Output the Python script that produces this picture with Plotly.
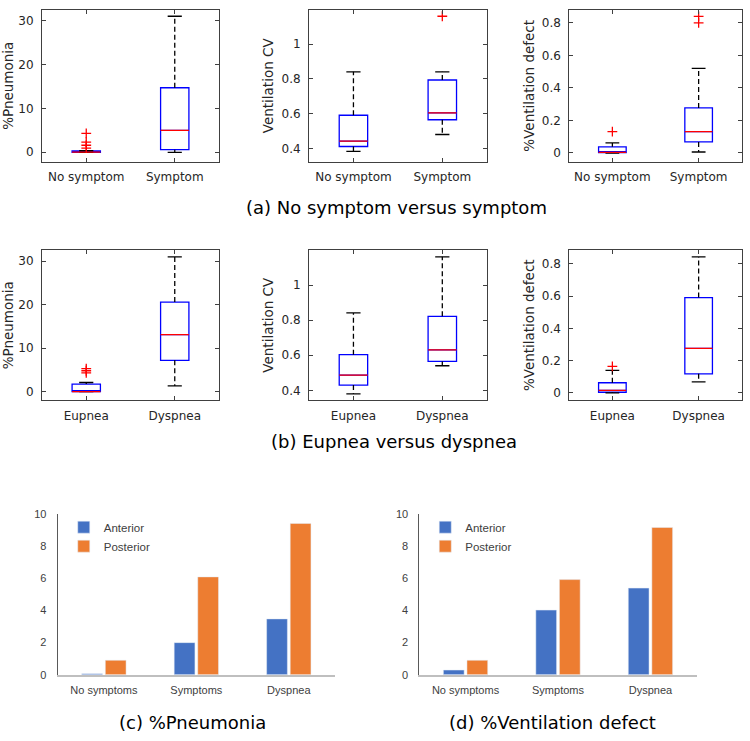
import plotly.graph_objects as go

# ---------------- data ----------------
cats_a = ["No symptom", "Symptom"]
cats_b = ["Eupnea", "Dyspnea"]

# five-number summaries per category: [lower whisker, q1, median, q3, upper whisker]
pneu_a = [[0.0, 0.0, 0.05, 0.3, 0.35], [0.0, 0.6, 5.0, 14.7, 31.0]]
pneu_a_out = [[4.3, 2.3, 1.6, 0.95], []]
cv_a = [[0.383, 0.411, 0.442, 0.591, 0.841], [0.48, 0.565, 0.605, 0.794, 0.841]]
cv_a_out = [[], [1.161]]
vd_a = [[0.0, 0.002, 0.004, 0.038, 0.062], [0.006, 0.068, 0.131, 0.277, 0.52]]
vd_a_out = [[0.131], [0.84, 0.80]]

pneu_b = [[0.0, 0.0, 0.0, 1.74, 2.1], [1.3, 7.2, 13.1, 20.6, 31.0]]
pneu_b_out = [[5.3, 4.8, 4.3], []]
cv_b = [[0.38, 0.43, 0.487, 0.603, 0.841], [0.54, 0.565, 0.631, 0.822, 1.161]]
cv_b_out = [[], []]
vd_b = [[0.0, 0.004, 0.016, 0.063, 0.14], [0.069, 0.118, 0.276, 0.591, 0.843]]
vd_b_out = [[0.165], []]

pneu_ticks = [0, 10, 20, 30]
pneu_ticktext = ["0", "10", "20", "30"]
cv_ticks = [0.4, 0.6, 0.8, 1.0]
cv_ticktext = ["0.4", "0.6", "0.8", "1"]
vd_ticks = [0, 0.2, 0.4, 0.6, 0.8]
vd_ticktext = ["0", "0.2", "0.4", "0.6", "0.8"]

groups = ["No symptoms", "Symptoms", "Dyspnea"]
pneu_anterior = [0.06, 2.0, 3.48]
pneu_posterior = [0.9, 6.1, 9.43]
vd_anterior = [0.29, 4.03, 5.4]
vd_posterior = [0.9, 5.93, 9.18]
bar_ticks = [0, 2, 4, 6, 8, 10]

captions = ["(a) No symptom versus symptom", "(b) Eupnea versus dyspnea",
            "(c) %Pneumonia", "(d) %Ventilation defect"]

# ---------------- styling ----------------
BOX_W = 0.32
CAP_W = 0.16
LW = 1.3
FRAME = "#404040"
MFONT = "DejaVu Sans"
XFONT = "Liberation Sans"

panels = [
    (pneu_a, pneu_a_out, cats_a, "%Pneumonia", [-2.2, 32.5], pneu_ticks, pneu_ticktext),
    (cv_a, cv_a_out, cats_a, "Ventilation CV", [0.322, 1.199], cv_ticks, cv_ticktext),
    (vd_a, vd_a_out, cats_a, "%Ventilation defect", [-0.055, 0.881], vd_ticks, vd_ticktext),
    (pneu_b, pneu_b_out, cats_b, "%Pneumonia", [-1.97, 32.5], pneu_ticks, pneu_ticktext),
    (cv_b, cv_b_out, cats_b, "Ventilation CV", [0.344, 1.198], cv_ticks, cv_ticktext),
    (vd_b, vd_b_out, cats_b, "%Ventilation defect", [-0.045, 0.884], vd_ticks, vd_ticktext),
]

col_dom = [(0.056, 0.292), (0.412, 0.649), (0.759, 0.989)]
row_dom = [(0.7861, 0.9950), (0.4593, 0.6649)]

fig = go.Figure()
layout = {}

for i, (stats, outs, cats, ytitle, yr, tv, tt) in enumerate(panels):
    n = i + 1
    xa = "x" if n == 1 else f"x{n}"
    ya = "y" if n == 1 else f"y{n}"
    for j, s in enumerate(stats):
        pos = j + 1
        lo, q1, med, q3, hi = s
        # whiskers (dashed, black)
        fig.add_trace(go.Scatter(
            x=[pos, pos, None, pos, pos], y=[q3, hi, None, q1, lo],
            mode="lines", line=dict(color="black", width=LW, dash="5px,3px"),
            xaxis=xa, yaxis=ya, showlegend=False, hoverinfo="skip"))
        # caps
        fig.add_trace(go.Scatter(
            x=[pos - CAP_W / 2, pos + CAP_W / 2, None, pos - CAP_W / 2, pos + CAP_W / 2],
            y=[hi, hi, None, lo, lo],
            mode="lines", line=dict(color="black", width=LW),
            xaxis=xa, yaxis=ya, showlegend=False, hoverinfo="skip"))
        # box (blue)
        fig.add_trace(go.Box(
            x=[pos], q1=[q1], median=[med], q3=[q3], lowerfence=[q1], upperfence=[q3],
            width=BOX_W, whiskerwidth=0, line=dict(color="#0000ff", width=LW),
            fillcolor="rgba(0,0,0,0)", xaxis=xa, yaxis=ya, showlegend=False,
            name=cats[j], boxpoints=False))
        # median (red)
        fig.add_trace(go.Scatter(
            x=[pos - BOX_W / 2, pos + BOX_W / 2], y=[med, med],
            mode="lines", line=dict(color="#ff0000", width=LW),
            xaxis=xa, yaxis=ya, showlegend=False, hoverinfo="skip"))
        # outliers
        if outs[j]:
            fig.add_trace(go.Scatter(
                x=[pos] * len(outs[j]), y=outs[j], mode="markers",
                marker=dict(symbol="cross-thin", size=7,
                            line=dict(color="#ff0000", width=LW)),
                xaxis=xa, yaxis=ya, showlegend=False))
    r, c = divmod(i, 3)
    axcommon = dict(showline=True, linecolor=FRAME, linewidth=1, mirror="ticks",
                    ticks="inside", ticklen=4, tickcolor=FRAME, showgrid=False,
                    zeroline=False, tickfont=dict(family=MFONT, size=12, color="#262626"))
    layout["xaxis" if n == 1 else f"xaxis{n}"] = dict(
        domain=list(col_dom[c]), anchor=ya, range=[0.5, 2.5],
        tickmode="array", tickvals=[1, 2], ticktext=cats, ticklabelstandoff=4, **axcommon)
    layout["yaxis" if n == 1 else f"yaxis{n}"] = dict(
        domain=list(row_dom[r]), anchor=xa, range=yr,
        tickmode="array", tickvals=tv, ticktext=tt, ticklabelstandoff=5,
        title=dict(text=ytitle, font=dict(family=MFONT, size=13.5, color="#262626"), standoff=4),
        **axcommon)

# ---------------- bar charts ----------------
BLUE = "#4472C4"
ORANGE = "#ED7D31"
bar_sets = [(pneu_anterior, pneu_posterior, 7, "legend"), (vd_anterior, vd_posterior, 8, "legend2")]
bar_xdom = [(0.0769, 0.4467), (0.5591, 0.9289)]
for k, (ant, post, n, lg) in enumerate(bar_sets):
    xa, ya = f"x{n}", f"y{n}"
    fig.add_trace(go.Bar(x=groups, y=ant, name="Anterior", marker_color=BLUE,
                         xaxis=xa, yaxis=ya, legend=lg))
    fig.add_trace(go.Bar(x=groups, y=post, name="Posterior", marker_color=ORANGE,
                         xaxis=xa, yaxis=ya, legend=lg))
    layout[f"xaxis{n}"] = dict(domain=list(bar_xdom[k]), anchor=ya, range=[-0.5, 2.5],
                               showline=True, linecolor="#bfbfbf", linewidth=1.5,
                               ticks="", showgrid=False, zeroline=False,
                               tickfont=dict(family=XFONT, size=11, color="#404040"),
                               ticklabelstandoff=4)
    layout[f"yaxis{n}"] = dict(domain=[0.0827, 0.3027], anchor=xa, range=[0, 10],
                               tickmode="array", tickvals=bar_ticks,
                               showline=True, linecolor="#595959", linewidth=1,
                               ticks="", showgrid=False, zeroline=False,
                               tickfont=dict(family=XFONT, size=11, color="#404040"),
                               ticklabelstandoff=8)

legfont = dict(family=XFONT, size=11.5, color="#404040")
layout["legend"] = dict(x=0.085, y=0.305, xanchor="left", yanchor="top",
                        bgcolor="rgba(0,0,0,0)", font=legfont, tracegroupgap=0)
layout["legend2"] = dict(x=0.567, y=0.305, xanchor="left", yanchor="top",
                         bgcolor="rgba(0,0,0,0)", font=legfont, tracegroupgap=0)

cap_pos = [(0.528, 1 - 205 / 741), (0.525, 1 - 443 / 741),
           (0.256, 1 - 728 / 741), (0.736, 1 - 728 / 741)]
annotations = []
for txt, (cx, cy) in zip(captions, cap_pos):
    annotations.append(dict(text=txt, x=cx, y=cy, xref="paper", yref="paper",
                            xanchor="center", yanchor="middle", showarrow=False,
                            font=dict(family=MFONT, size=18, color="black")))

fig.update_layout(**layout)
fig.update_layout(width=750, height=741, margin=dict(l=0, r=0, t=0, b=0),
                  paper_bgcolor="white", plot_bgcolor="white",
                  barmode="group", bargap=0.49, bargroupgap=0.12,
                  annotations=annotations, showlegend=True)

fig.write_html("out.html", config={"displayModeBar": False},
               post_script="document.body.style.margin='0';")
